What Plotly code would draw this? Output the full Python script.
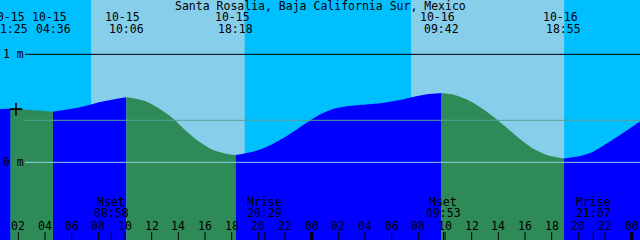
import plotly.graph_objects as go

# ---------------- data ----------------
title_text = "Santa Rosalia, Baja California Sur, Mexico"

tide_dates = ["10-15", "10-15", "10-15", "10-15", "10-16", "10-16"]
tide_times = ["01:25", "04:36", "10:06", "18:18", "09:42", "18:55"]
tide_heights = [0.496, 0.469, 0.602, 0.068, 0.642, 0.035]

# water level samples (hours since 10-15 00:00, metres)
curve_hours = [0.55, 2.9, 6.62, 8.12, 11.5, 12.62, 13.6, 14.65, 15.62, 16.6,
               17.65, 19.6, 20.65, 21.62, 22.6, 23.65, 24.62, 25.6, 26.65,
               27.62, 28.6, 29.65, 30.62, 31.6, 32.65, 34.6, 35.65, 36.62,
               37.6, 38.65, 39.62, 40.6, 41.65, 44.12, 45.1, 46.15, 47.12, 48.7]
curve_heights = [0.493, 0.484, 0.509, 0.558, 0.568, 0.494, 0.407, 0.283, 0.185,
                 0.114, 0.077, 0.098, 0.144, 0.206, 0.281, 0.369, 0.443, 0.494,
                 0.519, 0.531, 0.540, 0.556, 0.577, 0.605, 0.630, 0.628, 0.581,
                 0.512, 0.424, 0.318, 0.216, 0.128, 0.068, 0.058, 0.098, 0.176,
                 0.253, 0.385]

sun_dates = ["10-15", "10-15", "10-16", "10-16"]
sun_times = ["07:27", "18:59", "07:27", "18:57"]   # rise, set, rise, set

moon_names = ["Mset", "Mrise", "Mset", "Mrise"]
moon_dates = ["10-15", "10-15", "10-16", "10-16"]
moon_times = ["08:58", "20:29", "09:53", "21:07"]

tick_hours = list(range(2, 49, 2))
depth_levels = [1.0, 0.0]
depth_labels = ["1 m", "0 m"]
mean_level = 0.389
now_marker = (1.82, 0.493)

x_range = [0.6225, 48.6225]
y_range = [-0.719, 1.503]

# ---------------- styles ----------------
NIGHT = "#00BFFF"
DAY = "#87CEEB"
FLOOD = "#0000FF"
EBB = "#2E8B57"
FONT = dict(family="DejaVu Sans Mono", size=11.5, color="black")
W, H = 640, 240


def to_hours(date, time):
    day = int(date.split("-")[1]) - 15
    hh, mm = time.split(":")
    return day * 24 + int(hh) + int(mm) / 60.0


tide_hours = [to_hours(d, t) for d, t in zip(tide_dates, tide_times)]
sun_hours = [to_hours(d, t) for d, t in zip(sun_dates, sun_times)]
moon_hours = [to_hours(d, t) for d, t in zip(moon_dates, moon_times)]

pts = sorted(list(zip(curve_hours, curve_heights)) + list(zip(tide_hours, tide_heights)))
all_h = [p[0] for p in pts]
all_v = [p[1] for p in pts]

fig = go.Figure()

# sky background: night/day
shapes = []
bounds = [x_range[0]] + sun_hours + [x_range[1]]
for i in range(len(bounds) - 1):
    shapes.append(dict(type="rect", xref="x", yref="paper", x0=bounds[i], x1=bounds[i + 1],
                       y0=0, y1=1, fillcolor=DAY if i % 2 == 1 else NIGHT,
                       line=dict(width=0), layer="below"))

# water segments coloured by flood / ebb
seg_bounds = [-1e9] + tide_hours + [1e9]
for i in range(len(seg_bounds) - 1):
    a, b = seg_bounds[i], seg_bounds[i + 1]
    sx = [h for h in all_h if a - 1e-9 <= h <= b + 1e-9]
    sy = [v for h, v in zip(all_h, all_v) if a - 1e-9 <= h <= b + 1e-9]
    rising = sy[-1] > sy[0]
    col = FLOOD if rising else EBB
    fig.add_trace(go.Scatter(x=sx, y=[y_range[0]] * len(sx), mode="lines",
                             line=dict(width=0), hoverinfo="skip", showlegend=False))
    fig.add_trace(go.Scatter(x=sx, y=sy, mode="lines", fill="tonexty", fillcolor=col,
                             line=dict(width=0, shape="spline", smoothing=0.7, color=col),
                             hoverinfo="skip", showlegend=False))

# now marker
fig.add_trace(go.Scatter(x=[now_marker[0]], y=[now_marker[1]], mode="markers",
                         marker=dict(symbol="cross-thin", size=9,
                                     line=dict(width=1.6, color="black")),
                         hoverinfo="skip", showlegend=False))

# depth lines
x_line_start = 25 / W
for lvl, col in zip(depth_levels, ["black", "#8CD2E6"]):
    shapes.append(dict(type="line", xref="paper", yref="y", x0=x_line_start, x1=1,
                       y0=lvl, y1=lvl, line=dict(color=col, width=1), layer="above"))
shapes.append(dict(type="line", xref="paper", yref="y", x0=x_line_start, x1=1,
                   y0=mean_level, y1=mean_level, line=dict(color="#55A096", width=1),
                   layer="above"))

annotations = []
for lvl, lab in zip(depth_levels, depth_labels):
    annotations.append(dict(x=2 / W, y=lvl, xref="paper", yref="y", text=lab,
                            xanchor="left", yanchor="middle", showarrow=False,
                            font=FONT, borderpad=0))

# title
annotations.append(dict(x=0.5, y=1 - 5.5 / H, xref="paper", yref="paper", text=title_text,
                        xanchor="center", yanchor="middle", showarrow=False, font=FONT,
                        borderpad=0))

# tide event labels
for h, d, t in zip(tide_hours, tide_dates, tide_times):
    annotations.append(dict(x=h, y=1 - 17.5 / H, xref="x", yref="paper", text=d,
                            xanchor="center", yanchor="middle", showarrow=False,
                            font=FONT, xshift=-3.5, borderpad=0))
    annotations.append(dict(x=h, y=1 - 29.2 / H, xref="x", yref="paper", text=t,
                            xanchor="center", yanchor="middle", showarrow=False,
                            font=FONT, borderpad=0))

# moon event labels and ticks
for h, n, t in zip(moon_hours, moon_names, moon_times):
    annotations.append(dict(x=h, y=1 - 202 / H, xref="x", yref="paper", text=n,
                            xanchor="center", yanchor="middle", showarrow=False,
                            font=FONT, borderpad=0))
    annotations.append(dict(x=h, y=1 - 212.5 / H, xref="x", yref="paper", text=t,
                            xanchor="center", yanchor="middle", showarrow=False,
                            font=FONT, borderpad=0))
    shapes.append(dict(type="line", xref="x", yref="paper", x0=h, x1=h, y0=0, y1=8 / H,
                       line=dict(color="black", width=1), layer="above"))

# hour ticks
for h in tick_hours:
    annotations.append(dict(x=h, y=1 - 226 / H, xref="x", yref="paper",
                            text=f"{h % 24:02d}", xanchor="center", yanchor="middle",
                            showarrow=False, font=FONT, borderpad=0))
    shapes.append(dict(type="line", xref="x", yref="paper", x0=h, x1=h, y0=0, y1=8 / H,
                       line=dict(color="black", width=3 if h % 24 == 0 else 1),
                       layer="above"))

fig.update_layout(
    width=W, height=H, margin=dict(l=0, r=0, t=0, b=0, pad=0),
    paper_bgcolor=NIGHT, plot_bgcolor=NIGHT,
    xaxis=dict(range=x_range, visible=False, fixedrange=True),
    yaxis=dict(range=y_range, visible=False, fixedrange=True),
    shapes=shapes, annotations=annotations, showlegend=False,
)

fig.write_html("out.html")
